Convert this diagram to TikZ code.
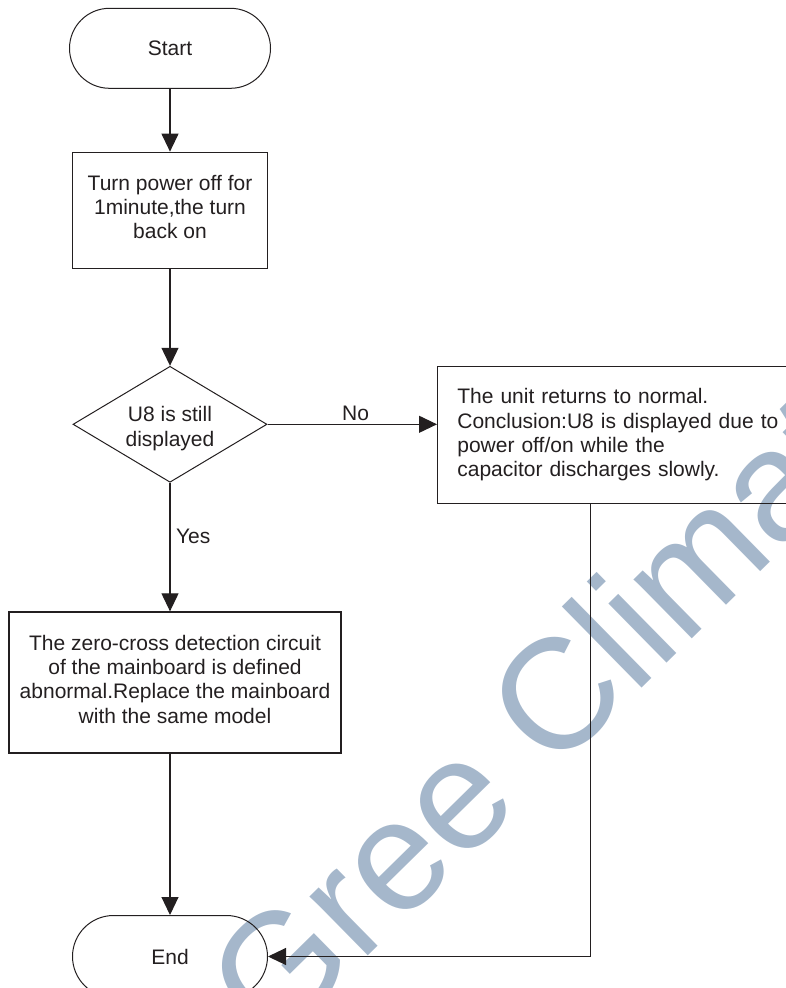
\documentclass[tikz,border=0pt]{standalone}
\usepackage{fontspec}
\setmainfont{Liberation Sans}
\usetikzlibrary{arrows.meta,shapes.geometric}
\definecolor{ink}{HTML}{231F20}
\definecolor{wm}{HTML}{A5B7CB}
\begin{document}
\begin{tikzpicture}[x=1pt,y=-1pt,
  every node/.style={font=\fontsize{21}{24.3}\selectfont, text=ink},
  term/.style={draw=ink, line width=1pt, rounded corners=40pt, minimum width=201pt, minimum height=80pt, inner sep=0pt},
  proc/.style={draw=ink, line width=1.3pt, align=center, inner sep=0pt},
  dec/.style={draw=ink, line width=1pt, diamond, aspect=1.67, inner sep=0pt, minimum width=194pt, minimum height=116pt, align=center},
  flow/.style={draw=ink, line width=1.1pt, -{Triangle[length=18pt,width=17pt]}},
  lbl/.style={inner sep=0pt}
]
\useasboundingbox (0,0) rectangle (786,988);
\clip (0,0) rectangle (786,988);
% watermark
\node[rotate=44.5, anchor=base west, inner sep=0pt, font=\fontsize{157}{157}\selectfont, text=wm] (wmark) at (273.6,1049.7) {Gree Climate};
% nodes
\node[term] (s) at (170,48.3) {Start};
\node[proc, minimum width=194.6pt, minimum height=116.4pt] (b1) at (170,210.5) {Turn power off for\\1minute,the turn\\back on\rule[-7pt]{0pt}{7pt}};
\node[dec] (d) at (170,424.3) {\rule{0pt}{23.7pt}U8 is still\\displayed};
\node[proc, align=left, text width=330pt, inner xsep=19.7pt, minimum height=136.7pt, anchor=north west] (b2) at (437,366) {The unit returns to normal.\\Conclusion:U8 is displayed due to\\power off/on while the\\capacitor discharges slowly.};
\node[proc, minimum width=332pt, minimum height=141pt] (b3) at (175,682.5) {The zero-cross detection circuit\\of the mainboard is defined\\abnormal.Replace the mainboard\\with the same model\rule[-7pt]{0pt}{7pt}};
\node[term, minimum width=195pt, minimum height=82pt, rounded corners=41pt] (e) at (170,956.5) {End};
\coordinate (c) at (590.7,956.5);
% connectors
\draw[flow] (s.south) -- (b1.north);
\draw[flow] (b1.south) -- (d.north);
\draw[flow] (d.east) -- node[pos=0.52, above, inner sep=3.3pt] (no) {No} (b2.west |- d.east);
\draw[flow] (d.south) -- node[pos=0.42, anchor=west, inner xsep=5.5pt, inner ysep=0pt] (yes) {Yes} (d.south |- b3.north);
\draw[flow] (b3.south -| e.north) -- (e.north);
\draw[flow] (b2.south -| c) -- (c) -- (e.east);
\end{tikzpicture}
\end{document}
